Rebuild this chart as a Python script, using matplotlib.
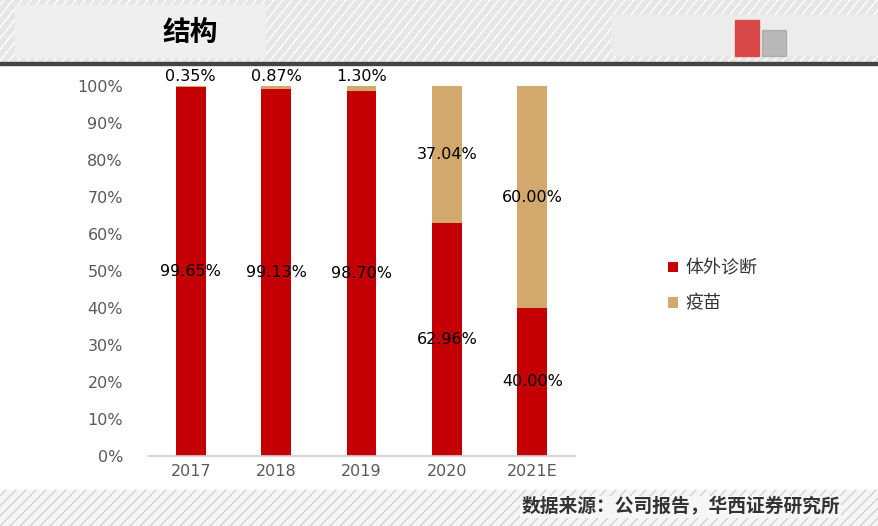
import matplotlib
matplotlib.use("Agg")
import matplotlib.pyplot as plt
import numpy as np

plt.rcParams['font.family'] = ['Noto Sans CJK SC', 'DejaVu Sans']

years = ["2017", "2018", "2019", "2020", "2021E"]
ivd = [99.65, 99.13, 98.70, 62.96, 40.00]
vaccine = [0.35, 0.87, 1.30, 37.04, 60.00]
series_names = ["体外诊断", "疫苗"]
yticks = [0, 10, 20, 30, 40, 50, 60, 70, 80, 90, 100]

red = "#C40005"
tan = "#D2A86C"

fig = plt.figure(figsize=(8.79, 5.26), dpi=100)

# background decoration (striped bands, header)
bg = fig.add_axes([0, 0, 1, 1])
bg.set_xlim(0, 879)
bg.set_ylim(526, 0)
bg.axis("off")
bg.add_patch(plt.Rectangle((0, 0), 879, 62, color="#e6e6e6", zorder=0))
for x0 in np.arange(-100, 960, 9):
    bg.plot([x0, x0 + 50], [62, 0], color="white", lw=1.0, zorder=1)
bg.add_patch(plt.Rectangle((15, 5), 250, 52, color="#efefef", zorder=2))
bg.add_patch(plt.Rectangle((612, 15), 265, 40, color="#ececec", zorder=2))
bg.add_patch(plt.Rectangle((735, 20), 24, 36, color="#d84848", zorder=3))
bg.add_patch(plt.Rectangle((762, 30), 24, 26, color="#888888", alpha=0.5, zorder=3))
bg.add_patch(plt.Rectangle((0, 62), 879, 3, color="#444444", zorder=3))
bg.add_patch(plt.Rectangle((0, 490), 879, 36, color="#f6f6f6", zorder=0))
for x0 in np.arange(-100, 960, 10):
    bg.plot([x0, x0 + 36], [526, 490], color="#d2d2d2", lw=1.0, zorder=1)
bg.text(163, 33, "结构", fontsize=20, fontweight="bold", color="black",
        ha="left", va="center", zorder=4)
bg.text(840, 507, "数据来源：公司报告，华西证券研究所", fontsize=13.5, fontweight="bold",
        color="#333333", ha="right", va="center", zorder=4,
        bbox=dict(facecolor="#f6f6f6", edgecolor="none", pad=1))

ax = fig.add_axes([148 / 879, 1 - 456 / 526, 427 / 879, 370 / 526])
x = np.arange(len(years))
b1 = ax.bar(x, ivd, width=0.35, color=red, label=series_names[0], zorder=2)
b2 = ax.bar(x, vaccine, width=0.35, bottom=ivd, color=tan, label=series_names[1], zorder=2)

for i in range(len(years)):
    ax.text(x[i], ivd[i] / 2, f"{ivd[i]:.2f}%", ha="center", va="center",
            fontsize=11.5, color="black", zorder=3, family="DejaVu Sans")
    if vaccine[i] < 5:
        ax.text(x[i], 100.5, f"{vaccine[i]:.2f}%", ha="center", va="bottom",
                fontsize=11.5, color="black", zorder=3, family="DejaVu Sans")
    else:
        ax.text(x[i], ivd[i] + vaccine[i] / 2, f"{vaccine[i]:.2f}%", ha="center",
                va="center", fontsize=11.5, color="black", zorder=3, family="DejaVu Sans")

ax.set_xlim(-0.5, 4.5)
ax.set_ylim(0, 100)
ax.set_yticks(yticks)
ax.set_yticklabels([f"{t}%" for t in yticks], fontsize=11.5, color="#595959",
                   family="DejaVu Sans")
ax.set_xticks(x)
ax.set_xticklabels(years, fontsize=11.5, color="#595959", family="DejaVu Sans")
ax.tick_params(axis="both", length=0, pad=18)
ax.tick_params(axis="x", pad=6)
for s in ["top", "right", "left"]:
    ax.spines[s].set_visible(False)
ax.spines["bottom"].set_color("#d0d0d0")
ax.spines["bottom"].set_linewidth(1.2)
ax.set_facecolor("none")

fig.legend(handles=[b1, b2], labels=series_names, loc="center left",
           bbox_to_anchor=(652 / 879, 1 - 286 / 526), frameon=False,
           fontsize=13, handlelength=0.55, handleheight=0.55, labelspacing=0.95,
           handletextpad=0.4, labelcolor="#333333")

fig.savefig("out.png", dpi=100)
